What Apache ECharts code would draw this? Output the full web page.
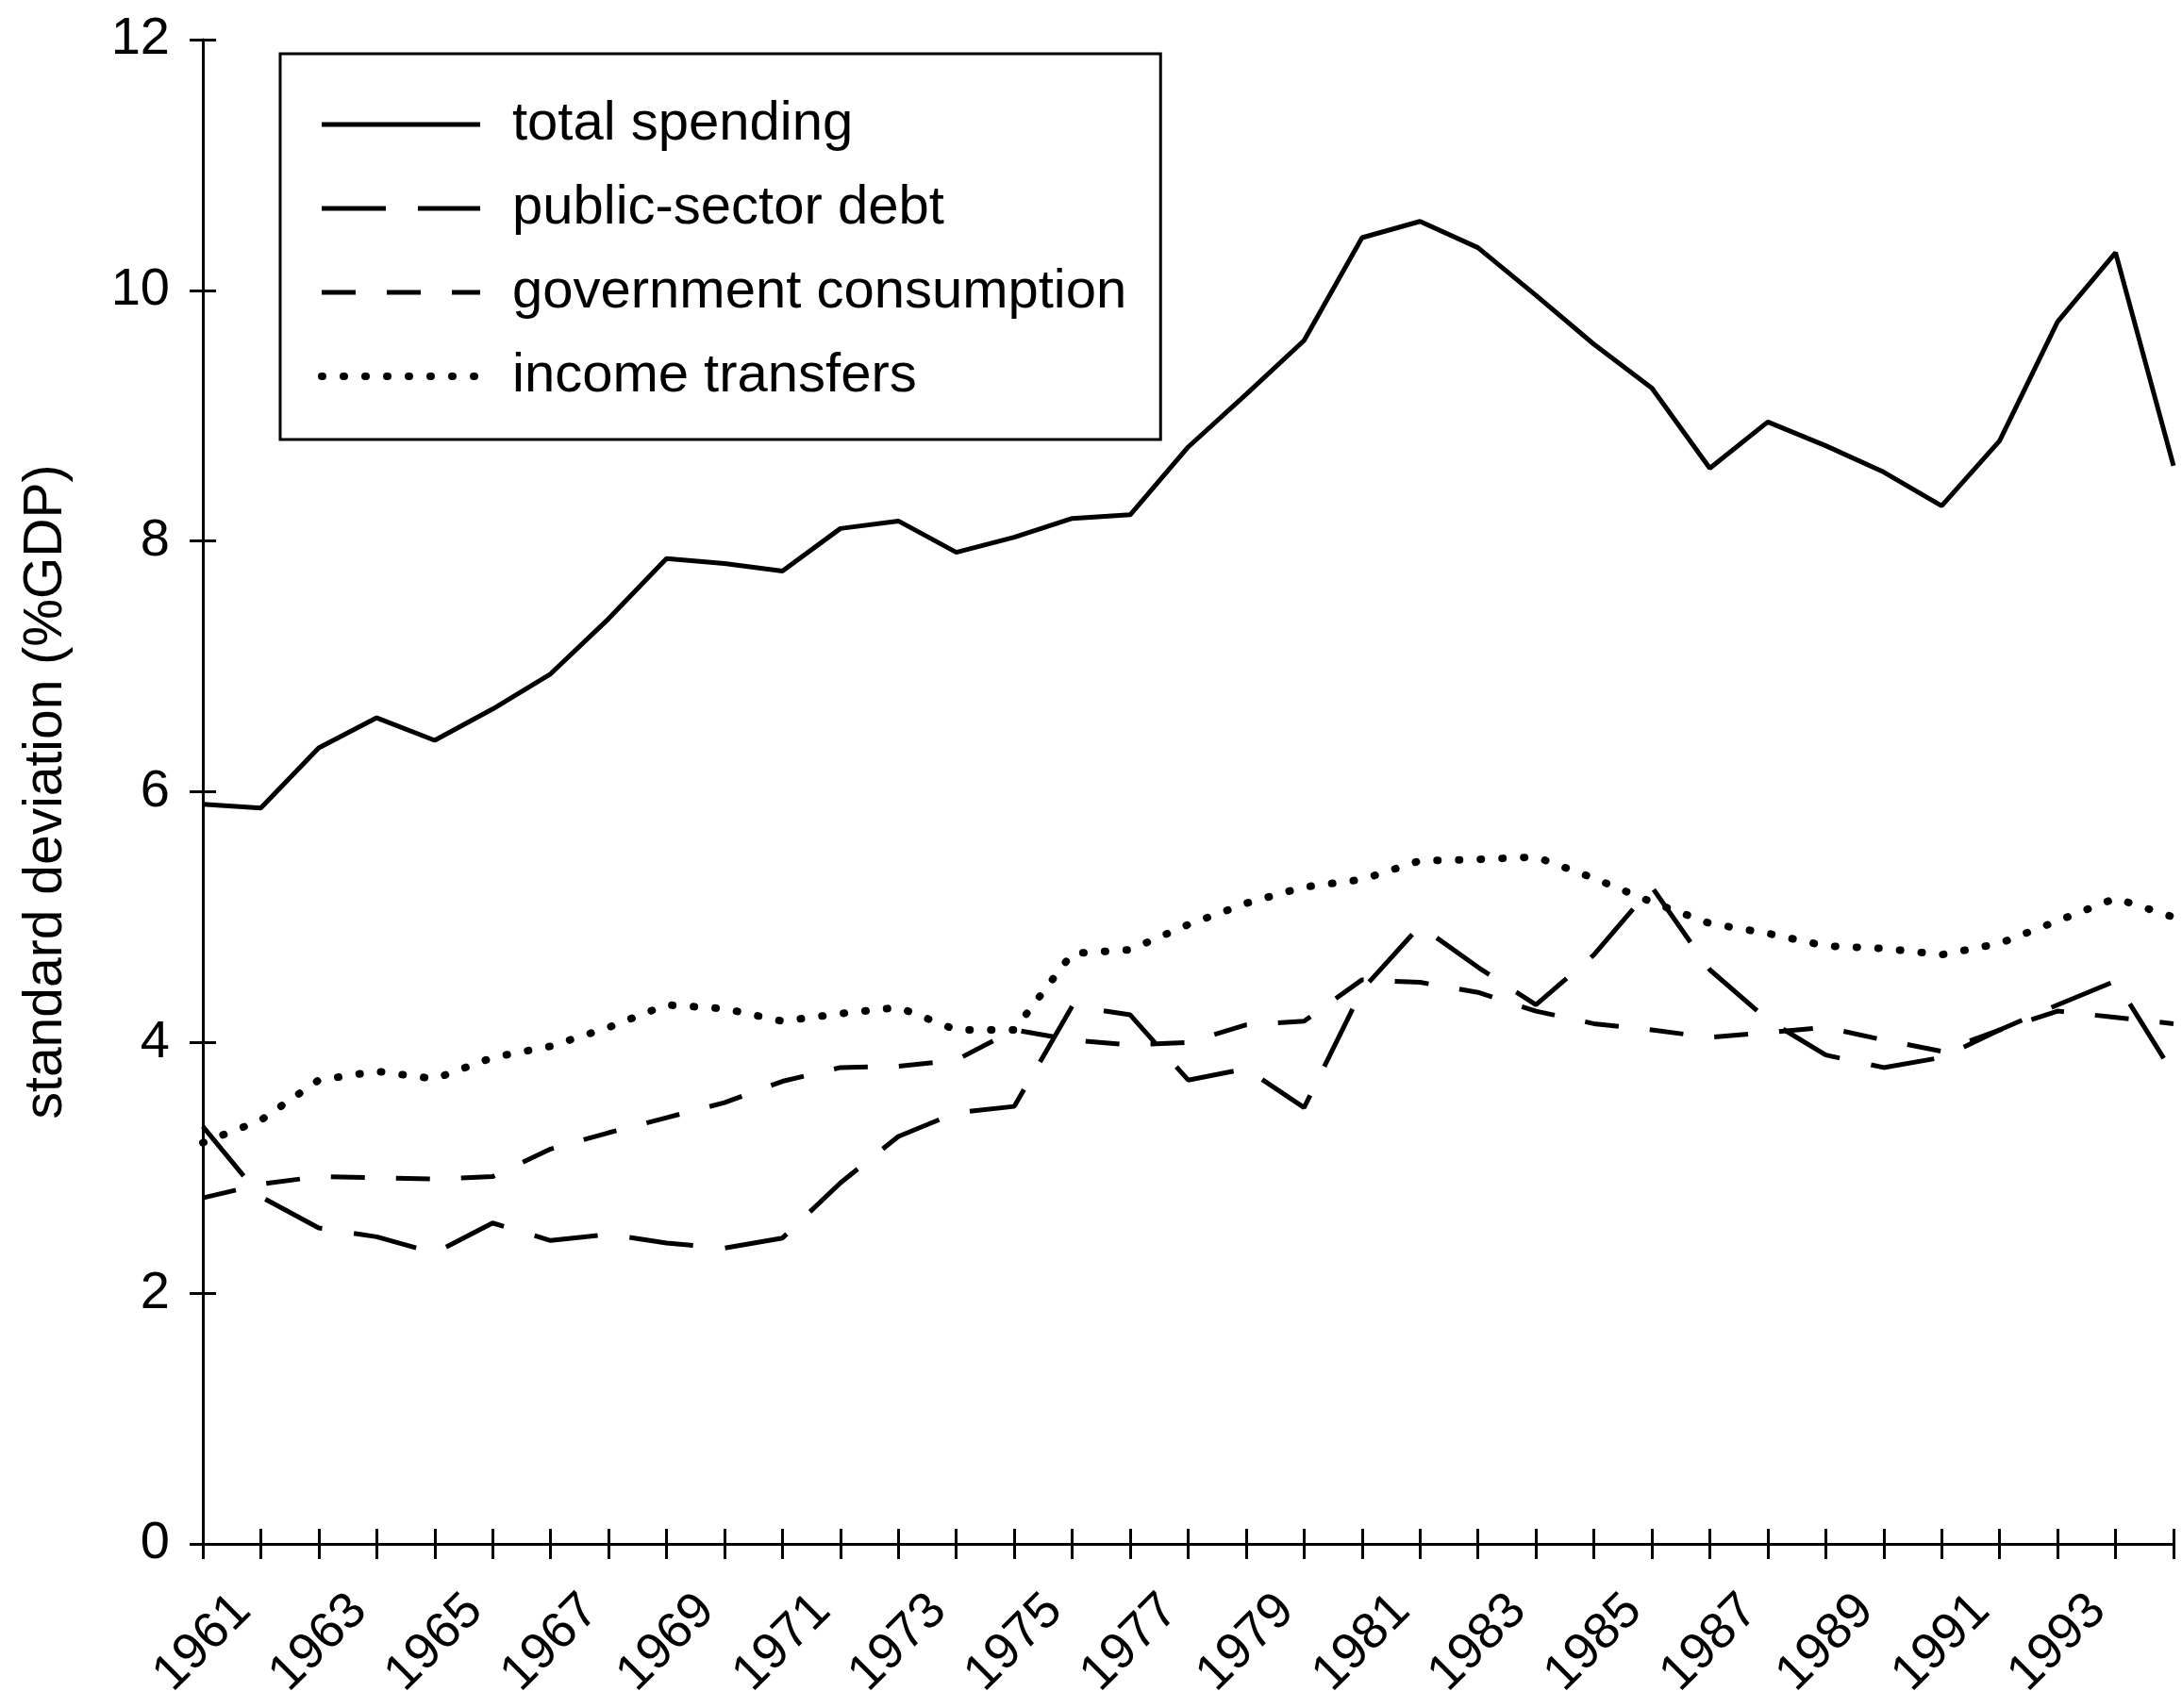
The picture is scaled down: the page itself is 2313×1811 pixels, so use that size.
<!DOCTYPE html>
<html>
<head>
<meta charset="utf-8">
<script src="https://cdn.jsdelivr.net/npm/echarts@6/dist/echarts.min.js"></script>
<style>
  html, body { margin: 0; padding: 0; background: #fff; }
  #chart { width: 2313px; height: 1811px; }
</style>
</head>
<body>
<div id="chart"></div>
<script>
// years on the category axis
var years = [];
for (var y = 1961; y <= 1995; y++) years.push(String(y));

var totalSpending = [5.90, 5.87, 6.35, 6.59, 6.41, 6.66, 6.94, 7.38, 7.86, 7.82,
                     7.76, 8.10, 8.16, 7.91, 8.03, 8.18, 8.21, 8.75, 9.17, 9.60,
                     10.42, 10.55, 10.34, 9.96, 9.57, 9.22, 8.58, 8.95, 8.76, 8.55,
                     8.28, 8.80, 9.75, 10.30, 8.60];
var publicDebt = [3.33, 2.77, 2.52, 2.45, 2.32, 2.56, 2.42, 2.47, 2.40, 2.36,
                  2.44, 2.88, 3.25, 3.44, 3.49, 4.29, 4.22, 3.70, 3.79, 3.48,
                  4.42, 4.93, 4.60, 4.30, 4.70, 5.24, 4.58, 4.18, 3.90, 3.80,
                  3.88, 4.10, 4.30, 4.49, 3.75];
var govConsumption = [2.76, 2.87, 2.93, 2.92, 2.91, 2.93, 3.15, 3.28, 3.40, 3.52,
                      3.69, 3.80, 3.81, 3.86, 4.10, 4.02, 3.98, 4.00, 4.14, 4.17,
                      4.50, 4.48, 4.40, 4.25, 4.15, 4.10, 4.04, 4.08, 4.12, 4.02,
                      3.93, 4.10, 4.25, 4.20, 4.15];
var incomeTransfers = [3.20, 3.38, 3.70, 3.77, 3.71, 3.88, 3.97, 4.12, 4.30, 4.27,
                       4.17, 4.23, 4.28, 4.10, 4.10, 4.71, 4.74, 4.94, 5.11, 5.24,
                       5.30, 5.45, 5.46, 5.48, 5.31, 5.12, 4.95, 4.87, 4.77, 4.75,
                       4.70, 4.79, 4.97, 5.15, 5.00];

var seriesNames = ['total spending', 'public-sector debt', 'government consumption', 'income transfers'];

var font = 'Liberation Sans, Arial, sans-serif';

// line looks, shared by series and legend
var styles = [
  { color: '#000', width: 5, type: 'solid' },
  { color: '#000', width: 5, type: [68, 34] },
  { color: '#000', width: 5, type: [36, 33] },
  { color: '#000', width: 8, type: [1, 22], cap: 'round' }
];

var myChart = echarts.init(document.getElementById('chart'));
var option = {
  animation: false,
  backgroundColor: '#fff',
  grid: { left: 215, right: 9, top: 42, bottom: 174, outerBoundsMode: 'none', containLabel: false },
  legend: {
    orient: 'vertical',
    left: 297,
    top: 57,
    itemWidth: 168,
    itemHeight: 20,
    itemGap: 29,
    padding: [45, 36, 37, 40],
    borderColor: '#000',
    borderWidth: 3,
    itemStyle: { opacity: 0 },
    textStyle: { fontSize: 58, fontFamily: font, color: '#000', lineHeight: 60, padding: [0, 0, 0, 29] },
    data: seriesNames.map(function (n, i) {
      return { name: n, lineStyle: styles[i], itemStyle: { opacity: 0 } };
    })
  },
  xAxis: [
    {
      type: 'category',
      data: years,
      boundaryGap: false,
      axisLine: { lineStyle: { color: '#000', width: 3 } },
      axisTick: { interval: 0, length: 16, lineStyle: { color: '#000', width: 3 } },
      axisLabel: {
        // every second year; the last one is cut off in the original
        interval: function (i) { return i % 2 === 0 && i < years.length - 1; },
        rotate: 45, align: 'center', verticalAlign: 'middle',
        margin: 105, fontSize: 54, fontFamily: font, color: '#000'
      },
      splitLine: { show: false }
    },
    {
      // inner half of the crossing ticks
      type: 'category',
      data: years,
      boundaryGap: false,
      position: 'bottom',
      axisLine: { show: false },
      axisTick: { inside: true, interval: 0, length: 16, lineStyle: { color: '#000', width: 3 } },
      axisLabel: { show: false },
      splitLine: { show: false }
    }
  ],
  yAxis: [
    {
      type: 'value',
      min: 0, max: 12, interval: 2,
      name: 'standard deviation (%GDP)',
      nameLocation: 'middle',
      nameGap: 137,
      nameTextStyle: { fontSize: 57, fontFamily: font, color: '#000' },
      axisLine: { show: true, lineStyle: { color: '#000', width: 3 } },
      axisTick: { show: true, length: 14, lineStyle: { color: '#000', width: 3 } },
      axisLabel: { margin: 35, fontSize: 56, fontFamily: font, color: '#000' },
      splitLine: { show: false }
    },
    {
      type: 'value',
      min: 0, max: 12, interval: 2,
      position: 'left',
      axisLine: { show: false },
      axisTick: { show: true, inside: true, length: 14, lineStyle: { color: '#000', width: 3 } },
      axisLabel: { show: false },
      splitLine: { show: false }
    }
  ],
  series: [
    { name: seriesNames[0], type: 'line', data: totalSpending, symbol: 'none', lineStyle: styles[0], itemStyle: { color: '#000' } },
    { name: seriesNames[1], type: 'line', data: publicDebt, symbol: 'none', lineStyle: styles[1], itemStyle: { color: '#000' } },
    { name: seriesNames[2], type: 'line', data: govConsumption, symbol: 'none', lineStyle: styles[2], itemStyle: { color: '#000' } },
    { name: seriesNames[3], type: 'line', data: incomeTransfers, symbol: 'none', lineStyle: styles[3], itemStyle: { color: '#000' } }
  ]
};
myChart.setOption(option);
</script>
</body>
</html>
